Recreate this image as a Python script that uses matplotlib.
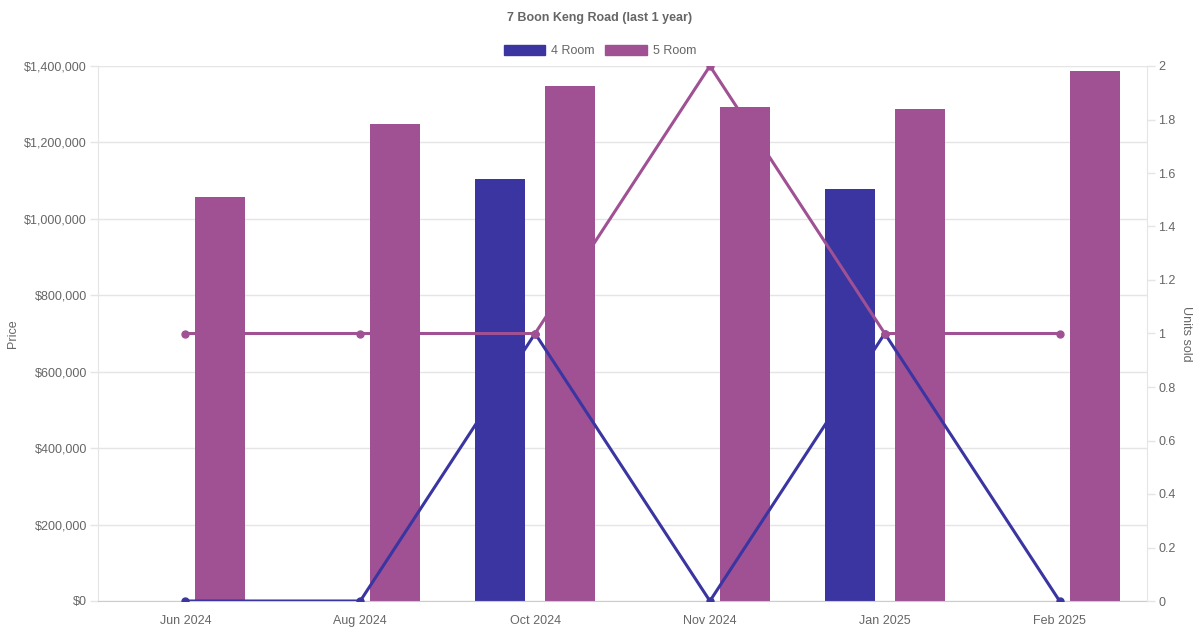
import matplotlib
matplotlib.use("Agg")
import matplotlib.pyplot as plt
from matplotlib.patches import Rectangle
from matplotlib.ticker import FuncFormatter, MultipleLocator
import numpy as np

plt.rcParams['font.family'] = ['Liberation Sans', 'DejaVu Sans']

months = ["Jun 2024", "Aug 2024", "Oct 2024", "Nov 2024", "Jan 2025", "Feb 2025"]
price_4room = [None, None, 1104000, None, 1078000, None]
price_5room = [1057000, 1248000, 1348000, 1293000, 1288000, 1387000]
units_4room = [0, 0, 1, 0, 1, 0]
units_5room = [1, 1, 1, 2, 1, 1]

c4 = "#3a35a1"
c5 = "#9f5194"
grid_c = "#e5e5e5"
txt_c = "#666666"

fig = plt.figure(figsize=(12, 6.3), dpi=100)
W, H = 1200, 630
ax = fig.add_axes([98 / W, (H - 601) / H, (1147 - 98) / W, (601 - 66) / H])
ax2 = ax.twinx()

x = np.arange(len(months))
bw = 50 / 175
off = 0.2
for i in range(len(months)):
    if price_4room[i] is not None:
        ax.bar(x[i] - off, price_4room[i], width=bw, color=c4, zorder=2)
    if price_5room[i] is not None:
        ax.bar(x[i] + off, price_5room[i], width=bw, color=c5, zorder=2)

ax.set_xlim(-0.5, len(months) - 0.5)
ax.set_ylim(0, 1400000)
ax.yaxis.set_major_locator(MultipleLocator(200000))
ax.yaxis.set_major_formatter(FuncFormatter(lambda v, p: "${:,.0f}".format(v)))
ax.set_xticks(x)
ax.set_xticklabels(months)
ax.grid(axis='y', color=grid_c, linewidth=1, zorder=0)
ax.tick_params(axis='x', length=0, pad=10, labelsize=9, labelcolor=txt_c)
ax.tick_params(axis='y', length=5.8, width=1, color=grid_c, pad=2.2, labelsize=9, labelcolor=txt_c)
for s in ['top', 'right']:
    ax.spines[s].set_visible(False)
ax.spines['left'].set_color(grid_c)
ax.spines['bottom'].set_color("#cccccc")
ax.set_ylabel("Price", color=txt_c, fontsize=9, labelpad=4)

ax2.plot(x, units_4room, color=c4, linewidth=2.2, marker='o', markersize=5, zorder=5)
ax2.plot(x, units_5room, color=c5, linewidth=2.2, marker='o', markersize=5, zorder=5)
ax2.set_ylim(0, 2)
ax2.yaxis.set_major_locator(MultipleLocator(0.2))
ax2.yaxis.set_major_formatter(FuncFormatter(lambda v, p: ("%.1f" % v).rstrip('0').rstrip('.')))
ax2.tick_params(axis='y', length=5.8, width=1, color=grid_c, pad=2.2, labelsize=9, labelcolor=txt_c)
for s in ['top', 'left', 'bottom']:
    ax2.spines[s].set_visible(False)
ax2.spines['right'].set_color(grid_c)
ax2.set_ylabel("Units sold", color=txt_c, fontsize=9, rotation=270, labelpad=12)
ax2.set_zorder(ax.get_zorder() + 1)
ax2.patch.set_visible(False)

fig.text(600 / W, 1 - 18 / H, "7 Boon Keng Road (last 1 year)", ha='center', va='center',
         fontsize=9, fontweight='bold', color=txt_c)

handles = [Rectangle((0, 0), 1, 1, color=c4), Rectangle((0, 0), 1, 1, color=c5)]
fig.legend(handles, ["4 Room", "5 Room"], loc='center', bbox_to_anchor=(600 / W, 1 - 51 / H),
           ncol=2, frameon=False, fontsize=9, labelcolor=txt_c, handlelength=3.3,
           handleheight=0.95, handletextpad=0.5, columnspacing=0.85)

fig.savefig("out.png", dpi=100)
